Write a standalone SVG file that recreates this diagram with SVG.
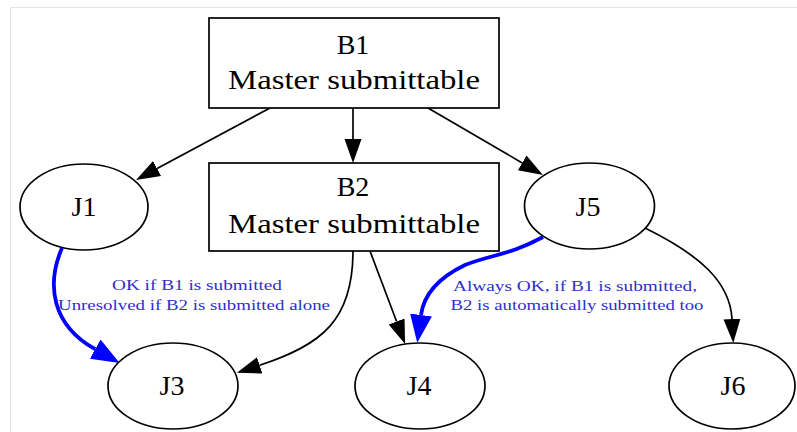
<svg xmlns="http://www.w3.org/2000/svg" width="797" height="432" viewBox="0 0 797 432">
<style>
.nd{fill:#fff;stroke:#000;stroke-width:1.7}
.nt{font-family:"Liberation Serif",serif;font-size:28px;text-anchor:middle;fill:#000}
.e{fill:none;stroke:#000;stroke-width:1.7}
.eb{fill:none;stroke:#0000ff;stroke-width:3.8}
.lt{font-family:"Liberation Serif",serif;font-size:15px;text-anchor:middle;fill:#2f2fc8}
</style>
<defs>
<marker id="ah" markerUnits="userSpaceOnUse" markerWidth="26" markerHeight="20" refX="0" refY="9" orient="auto" viewBox="0 0 26 18"><path d="M0,0.5 L24,9 L0,17.5 z" fill="#000"/></marker>
<marker id="ahb" markerUnits="userSpaceOnUse" markerWidth="30" markerHeight="24" refX="0" refY="11" orient="auto" viewBox="0 0 30 22"><path d="M0,0 L28,11 L0,22 z" fill="#0000ff"/></marker>
</defs>
<rect width="797" height="432" fill="#fff"/>
<path d="M10.5,432 V7.5 H797" fill="none" stroke="#e4e4e4" stroke-width="1"/>
<g id="connectors">
<path class="e" d="M270,108 L157.1,168.6" marker-end="url(#ah)"/>
<path class="e" d="M353,108 L353,139" marker-end="url(#ah)"/>
<path class="e" d="M428,108 L522.2,162.9" marker-end="url(#ah)"/>
<path class="e" d="M353,251 C353,320 322,345 259.7,365.3" marker-end="url(#ah)"/>
<path class="e" d="M370,251 L396.6,321.5" marker-end="url(#ah)"/>
<path class="e" d="M645,228 C700,255 730,282 732,319" marker-end="url(#ah)"/>
<path class="eb" d="M62,248 C46,285 52,325 95.2,349.2" marker-end="url(#ahb)"/>
<path class="eb" d="M543,237 C510,255 490,255 465,265 C440,277 424,293 421,315" marker-end="url(#ahb)"/>
<text class="lt" x="197" y="290" textLength="170" lengthAdjust="spacingAndGlyphs">OK if B1 is submitted</text>
<text class="lt" x="194" y="310" textLength="272" lengthAdjust="spacingAndGlyphs">Unresolved if B2 is submitted alone</text>
<text class="lt" x="575" y="291" textLength="244" lengthAdjust="spacingAndGlyphs">Always OK, if B1 is submitted,</text>
<text class="lt" x="577" y="310" textLength="253" lengthAdjust="spacingAndGlyphs">B2 is automatically submitted too</text>
</g>
<g id="B1">
<rect class="nd" x="209" y="18" width="290" height="90"/>
<text class="nt" x="353" y="54">B1</text>
<text class="nt" x="354" y="89" textLength="252" lengthAdjust="spacingAndGlyphs">Master submittable</text>
</g>
<g id="B2">
<rect class="nd" x="209" y="163" width="290" height="88"/>
<text class="nt" x="353" y="196">B2</text>
<text class="nt" x="354" y="233" textLength="252" lengthAdjust="spacingAndGlyphs">Master submittable</text>
</g>
<g id="J1">
<ellipse class="nd" cx="84" cy="207" rx="64" ry="43"/>
<text class="nt" x="84" y="216">J1</text>
</g>
<g id="J5">
<ellipse class="nd" cx="589.5" cy="206" rx="65" ry="43"/>
<text class="nt" x="588" y="216">J5</text>
</g>
<g id="J3">
<ellipse class="nd" cx="173" cy="386" rx="65" ry="43"/>
<text class="nt" x="172" y="395">J3</text>
</g>
<g id="J4">
<ellipse class="nd" cx="420" cy="386" rx="65" ry="43"/>
<text class="nt" x="419" y="395">J4</text>
</g>
<g id="J6">
<ellipse class="nd" cx="732" cy="386" rx="63" ry="43"/>
<text class="nt" x="733" y="395">J6</text>
</g>
</svg>
